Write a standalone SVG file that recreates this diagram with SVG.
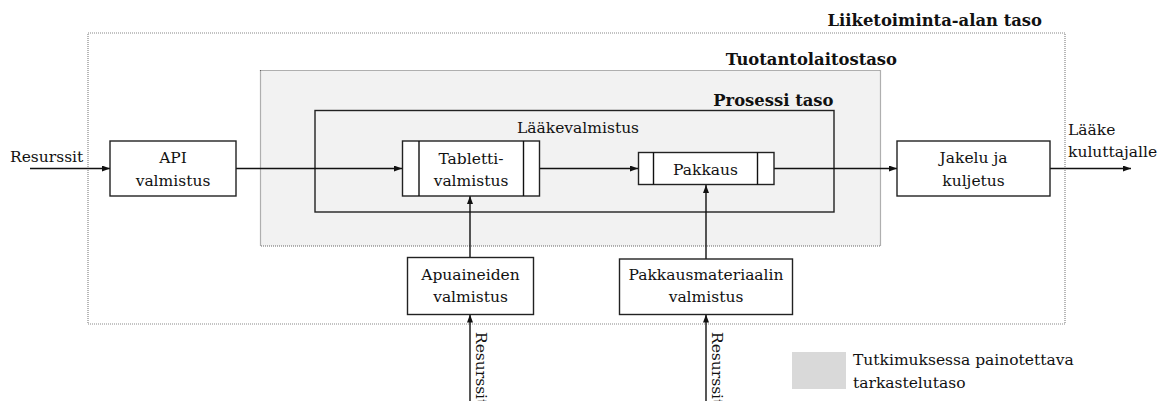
<svg xmlns="http://www.w3.org/2000/svg" width="1158" height="401" viewBox="0 0 1158 401">
<style>
text{font-family:'DejaVu Serif','Liberation Serif',serif;font-size:15.5px;fill:#111}
.t{font-weight:bold;font-size:16.4px;text-anchor:end}
.c{text-anchor:middle}
.box{fill:#fff;stroke:#222;stroke-width:1.4}
.ln{stroke:#111;stroke-width:1.4;fill:none}
</style>
<defs>
<marker id="ah" viewBox="0 0 8 6" refX="8" refY="3" markerWidth="8" markerHeight="6" markerUnits="userSpaceOnUse" orient="auto">
<path d="M0,0 L8,3 L0,6 z" fill="#111"/>
</marker>
</defs>
<rect width="1158" height="401" fill="#fff"/>
<g id="level-business">
<rect x="88" y="33" width="977" height="291" fill="none" stroke="#888" stroke-width="1.2" stroke-dasharray="1,1"/>
<text class="t" x="1042" y="26">Liiketoiminta-alan taso</text>
</g>
<g id="level-plant">
<rect x="260.5" y="70.5" width="620" height="175.5" fill="#f2f2f2" stroke="#666" stroke-width="1.2" stroke-dasharray="1,1"/>
<text class="t" x="897" y="65">Tuotantolaitostaso</text>
</g>
<g id="level-process">
<rect x="315" y="110.5" width="519" height="101.5" fill="none" stroke="#222" stroke-width="1.4"/>
<text class="t" x="833.5" y="106">Prosessi taso</text>
<text x="517" y="132.5">Lääkevalmistus</text>
</g>
<g id="legend">
<rect x="792" y="352" width="54" height="37" fill="#d9d9d9"/>
<text x="853" y="365">Tutkimuksessa painotettava</text>
<text x="853" y="388">tarkastelutaso</text>
</g>
<g id="connectors">
<line class="ln" x1="30" y1="168.5" x2="110" y2="168.5" marker-end="url(#ah)"/>
<line class="ln" x1="236" y1="168.5" x2="402" y2="168.5" marker-end="url(#ah)"/>
<line class="ln" x1="539" y1="168.5" x2="638" y2="168.5" marker-end="url(#ah)"/>
<line class="ln" x1="774" y1="168.5" x2="897" y2="168.5" marker-end="url(#ah)"/>
<line class="ln" x1="1050" y1="168.5" x2="1131" y2="168.5" marker-end="url(#ah)"/>
<line class="ln" x1="470" y1="257" x2="470" y2="196" marker-end="url(#ah)"/>
<line class="ln" x1="706" y1="259" x2="706" y2="185" marker-end="url(#ah)"/>
<line class="ln" x1="470" y1="401" x2="470" y2="314.5" marker-end="url(#ah)"/>
<line class="ln" x1="706" y1="401" x2="706" y2="314.5" marker-end="url(#ah)"/>
<text x="10" y="162">Resurssit</text>
<text x="1068" y="135">Lääke</text>
<text x="1068" y="157">kuluttajalle</text>
<text transform="translate(476,332) rotate(90)">Resurssit</text>
<text transform="translate(712,332) rotate(90)">Resurssit</text>
</g>
<g id="api">
<rect class="box" x="110" y="141" width="126" height="55"/>
<text class="c" x="173" y="162.5">API</text>
<text class="c" x="173" y="186">valmistus</text>
</g>
<g id="tabletti">
<rect class="box" x="402.5" y="141" width="137" height="55"/>
<line class="ln" x1="419" y1="141" x2="419" y2="196"/>
<line class="ln" x1="523.5" y1="141" x2="523.5" y2="196"/>
<text class="c" x="471" y="163.5">Tabletti-</text>
<text class="c" x="471" y="186">valmistus</text>
</g>
<g id="pakkaus">
<rect class="box" x="638.5" y="152.5" width="135.5" height="32"/>
<line class="ln" x1="653.5" y1="152.5" x2="653.5" y2="184.5"/>
<line class="ln" x1="757.5" y1="152.5" x2="757.5" y2="184.5"/>
<text class="c" x="705.5" y="175">Pakkaus</text>
</g>
<g id="jakelu">
<rect class="box" x="897" y="141" width="153" height="55"/>
<text class="c" x="973.5" y="162.5">Jakelu ja</text>
<text class="c" x="973.5" y="186">kuljetus</text>
</g>
<g id="apuaineiden">
<rect class="box" x="407.5" y="257.5" width="126" height="57"/>
<text class="c" x="470.5" y="280">Apuaineiden</text>
<text class="c" x="470.5" y="302">valmistus</text>
</g>
<g id="pakkausmateriaalin">
<rect class="box" x="619.5" y="259" width="173" height="55.5"/>
<text class="c" x="706" y="280">Pakkausmateriaalin</text>
<text class="c" x="706" y="302">valmistus</text>
</g>
</svg>
